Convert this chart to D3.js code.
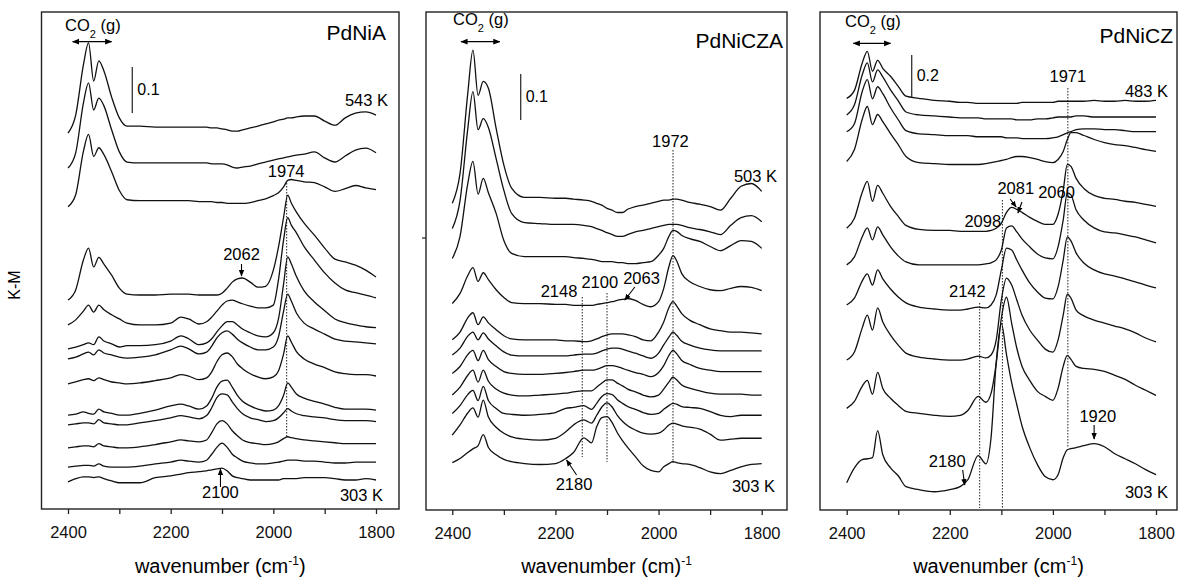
<!DOCTYPE html>
<html>
<head>
<meta charset="utf-8">
<script src="https://cdn.jsdelivr.net/npm/d3@7"></script>
<style>
  body { margin: 0; background: #fff; }
  svg { font-family: "Liberation Sans", Arial, sans-serif; }
</style>
</head>
<body>
<div id="chart"></div>
<script>
// wavenumber grid (cm-1), shared by all spectra
const wavenumbers = [2400, 2385, 2370, 2360, 2350, 2340, 2330, 2315, 2300, 2285,
  2260, 2230, 2200, 2180, 2165, 2145, 2130, 2120, 2110, 2100,
  2090, 2080, 2070, 2060, 2045, 2030, 2015, 2000, 1990, 1980,
  1972, 1965, 1955, 1940, 1920, 1900, 1880, 1860, 1840, 1820, 1800];

// PdNiA : K-M offsets of the stacked spectra (543 K on top, 303 K at bottom)
const pdniaOffsets = [0.817, 0.741, 0.657, 0.454, 0.400, 0.348, 0.326, 0.272, 0.204, 0.183, 0.133, 0.091, 0.059];
const pdniaSpectra = [
  [0, .039, .148, .196, .113, .157, .135, .078, .033, .015, .015, .013, .013, .013, .013, .013, .013, .011, .011, .009, .007, .004, .004, .007, .011, .015, .020, .024, .028, .030, .033, .033, .035, .037, .037, .026, .017, .033, .043, .046, .039],
  [0, .033, .141, .185, .126, .152, .135, .083, .035, .013, .011, .011, .011, .011, .011, .011, .011, .009, .009, .009, .007, .002, 0, .002, .004, .009, .013, .017, .020, .022, .024, .026, .028, .030, .035, .022, .013, .026, .039, .043, .033],
  [0, .026, .120, .157, .109, .128, .113, .076, .035, .015, .013, .013, .013, .013, .013, .011, .011, .011, .009, .009, .007, .007, .007, .007, .009, .013, .017, .024, .030, .043, .057, .059, .057, .054, .052, .043, .033, .039, .046, .041, .037],
  [0, .022, .087, .113, .072, .093, .078, .054, .026, .013, .011, .011, .013, .013, .013, .011, .011, .011, .011, .015, .026, .039, .046, .048, .039, .028, .030, .065, .115, .180, .228, .211, .191, .167, .141, .113, .089, .083, .076, .065, .050],
  [0, .011, .030, .043, .028, .043, .033, .022, .013, .004, 0, 0, .004, .017, .013, .002, .007, .017, .030, .043, .052, .054, .050, .046, .041, .037, .037, .043, .098, .185, .233, .217, .200, .170, .141, .113, .091, .076, .070, .065, .059],
  [0, .004, .009, .013, .009, .026, .017, .011, .004, .007, .007, .009, .017, .028, .022, .009, .013, .022, .037, .050, .059, .059, .052, .043, .035, .028, .026, .035, .065, .141, .200, .185, .157, .126, .102, .083, .065, .057, .052, .048, .046],
  [0, .004, .011, .015, .009, .020, .013, .009, .004, .002, .004, .009, .020, .028, .022, .011, .015, .028, .046, .057, .061, .054, .043, .035, .026, .020, .020, .026, .048, .104, .141, .126, .100, .078, .065, .054, .043, .039, .037, .035, .033],
  [0, .004, .009, .011, .007, .013, .009, .004, .002, 0, .002, .007, .013, .020, .017, .009, .013, .026, .048, .063, .067, .059, .043, .033, .022, .015, .011, .015, .028, .065, .104, .091, .070, .054, .043, .035, .026, .022, .020, .020, .017],
  [0, .002, .007, .004, .002, .013, .007, .004, 0, 0, .004, .011, .020, .024, .020, .013, .020, .037, .061, .074, .076, .061, .043, .030, .020, .013, .009, .011, .020, .043, .070, .061, .046, .037, .030, .024, .017, .013, .013, .013, .011],
  [0, .002, .004, .004, .002, .011, .004, .002, 0, 0, .004, .009, .015, .020, .017, .013, .020, .037, .059, .067, .065, .050, .035, .024, .015, .011, .007, .009, .015, .026, .035, .030, .024, .020, .017, .015, .011, .009, .009, .009, .007],
  [0, .002, .004, .004, .002, .009, .004, .002, 0, 0, .002, .007, .013, .017, .015, .013, .017, .033, .052, .059, .052, .037, .026, .017, .011, .009, .007, .009, .013, .020, .024, .022, .020, .017, .015, .013, .011, .009, .009, .009, .009],
  [0, .002, .004, .004, .002, .007, .002, 0, 0, 0, .002, .007, .011, .015, .013, .011, .015, .028, .043, .052, .043, .028, .020, .013, .009, .007, .007, .009, .011, .013, .015, .015, .015, .013, .013, .011, .009, .009, .011, .011, .011],
  [0, .007, .011, .011, .009, .011, .007, .002, -.002, -.002, -.002, .009, .013, .017, .020, .022, .024, .026, .028, .030, .024, .013, .009, .007, .004, .004, .004, .004, .004, .007, .007, .007, .007, .009, .009, .009, .007, .004, .004, .007, .004]
];

// PdNiCZA (503 K on top, 303 K at bottom)
const pdniczaOffsets = [0.667, 0.612, 0.547, 0.449, 0.370, 0.337, 0.297, 0.250, 0.210, 0.163, 0.103];
const pdniczaSpectra = [
  [0, .065, .239, .333, .235, .265, .250, .163, .083, .033, .013, .013, .011, .011, .009, .007, .004, 0, -.004, -.011, -.015, -.020, -.020, -.013, -.007, -.004, 0, .004, .007, .007, .009, .009, .007, .002, -.002, -.007, -.015, .011, .037, .043, .026],
  [0, .061, .217, .298, .215, .239, .220, .152, .083, .033, .013, .011, .009, .009, .009, .007, .004, 0, -.004, -.009, -.013, -.017, -.017, -.013, -.007, -.004, 0, .004, .007, .009, .009, .009, .007, .002, -.002, -.007, -.013, .007, .024, .028, .015],
  [0, .048, .163, .211, .140, .174, .143, .098, .039, .011, .004, .004, .004, .004, .002, 0, -.002, -.004, -.007, -.007, -.007, -.009, -.009, -.011, -.011, -.009, -.007, .007, .022, .048, .061, .059, .050, .043, .037, .026, .017, .028, .039, .037, .022],
  [0, .022, .061, .078, .048, .067, .052, .030, .013, .002, 0, 0, -.002, -.002, -.004, -.004, -.004, -.002, 0, .002, .004, .007, .009, .011, .007, -.002, -.007, .004, .033, .080, .104, .093, .065, .048, .037, .030, .028, .033, .037, .035, .028],
  [0, .017, .048, .059, .033, .050, .037, .022, .009, .002, 0, 0, 0, -.002, -.002, -.004, -.002, .002, .007, .011, .013, .013, .013, .011, .007, 0, -.002, .017, .039, .070, .083, .074, .057, .043, .033, .024, .020, .017, .017, .015, .013],
  [0, .015, .041, .050, .033, .048, .035, .020, .007, 0, -.002, -.002, -.002, -.002, 0, .002, .002, .004, .009, .013, .015, .015, .013, .009, .004, -.002, -.007, .004, .022, .039, .050, .043, .030, .022, .015, .011, .009, .009, .009, .009, .009],
  [0, .015, .041, .050, .028, .050, .030, .015, .004, 0, -.002, -.002, 0, .002, .004, .007, .007, .009, .013, .017, .017, .015, .011, .007, .002, -.002, -.007, .002, .017, .039, .050, .043, .028, .020, .011, .007, .004, .004, .004, .004, .004],
  [0, .017, .043, .054, .028, .054, .030, .013, .004, 0, -.002, 0, .002, .004, .007, .009, .009, .017, .026, .033, .033, .026, .020, .013, .007, 0, -.004, 0, .013, .028, .039, .033, .022, .015, .009, .004, .002, .002, .002, 0, 0],
  [0, .017, .041, .050, .028, .059, .028, .011, 0, -.002, -.004, -.002, .002, .011, .013, .017, .009, .022, .037, .043, .041, .030, .022, .015, .009, .002, -.002, 0, .009, .017, .022, .020, .015, .013, .011, .004, -.004, -.007, -.004, -.004, -.004],
  [0, .022, .048, .059, .039, .076, .039, .017, .004, -.004, -.009, -.011, -.007, .007, .022, .033, .026, .043, .061, .070, .061, .043, .030, .020, .011, .004, .002, .004, .011, .022, .026, .024, .020, .017, .013, .002, -.011, -.009, -.007, -.007, -.007],
  [0, .009, .022, .030, .037, .061, .033, .017, .007, .002, -.002, -.004, -.002, .009, .022, .054, .043, .078, .098, .100, .087, .065, .048, .033, .013, -.007, -.017, -.020, -.009, -.002, .002, 0, -.002, -.004, -.011, -.020, -.024, -.017, -.009, -.004, -.002]
];

// PdNiCZ (483 K on top, 303 K at bottom)
const pdniczOffsets = [1.960, 1.881, 1.801, 1.659, 1.341, 1.167, 0.976, 0.714, 0.484, 0.130];
const pdniczSpectra = [
  [0, .038, .167, .224, .129, .181, .143, .105, .057, .010, 0, -.010, -.014, -.019, -.019, -.024, -.024, -.024, -.024, -.024, -.024, -.024, -.024, -.019, -.019, -.019, -.019, -.019, -.014, -.014, -.014, -.014, -.014, -.014, -.010, -.014, -.014, -.010, -.014, -.014, -.010],
  [0, .048, .190, .248, .157, .214, .181, .119, .067, .014, 0, -.005, -.010, -.014, -.014, -.014, -.019, -.019, -.019, -.019, -.019, -.019, -.024, -.024, -.024, -.019, -.019, -.014, -.010, -.010, -.010, -.010, -.005, -.005, -.010, -.010, -.010, -.010, -.010, -.010, -.010],
  [0, .038, .190, .248, .157, .214, .181, .114, .057, .005, -.010, -.014, -.019, -.019, -.019, -.024, -.024, -.024, -.024, -.024, -.029, -.029, -.029, -.033, -.033, -.033, -.033, -.029, -.024, -.014, -.005, 0, .010, .014, .014, .010, .010, .005, 0, 0, 0],
  [0, .057, .200, .262, .176, .224, .190, .133, .081, .024, -.005, -.010, -.014, -.014, -.014, -.014, -.010, -.005, 0, .005, .010, .019, .024, .024, .019, .010, 0, -.005, .010, .048, .105, .138, .138, .124, .105, .090, .081, .076, .067, .057, .048],
  [0, .048, .171, .224, .129, .205, .167, .105, .057, .014, -.005, -.010, -.010, -.014, -.014, -.014, -.014, -.010, 0, .024, .076, .100, .090, .076, .052, .033, .019, .019, .067, .181, .305, .295, .238, .190, .157, .143, .138, .129, .124, .114, .105],
  [0, .038, .133, .176, .119, .181, .143, .086, .043, .014, 0, 0, 0, 0, 0, 0, .005, .010, .024, .071, .176, .186, .157, .124, .086, .052, .033, .029, .086, .214, .343, .333, .262, .214, .176, .157, .152, .143, .133, .119, .105],
  [0, .033, .114, .148, .095, .167, .124, .076, .038, .010, -.010, -.019, -.024, -.024, -.019, -.010, -.014, 0, .048, .167, .271, .262, .214, .167, .105, .062, .033, .029, .086, .214, .324, .305, .248, .200, .167, .148, .138, .124, .110, .095, .081],
  [0, .038, .152, .214, .143, .248, .181, .119, .071, .033, .014, .005, 0, 0, .005, .019, .010, .024, .095, .286, .390, .357, .286, .214, .143, .095, .052, .038, .095, .214, .314, .295, .238, .210, .190, .176, .162, .148, .129, .105, .086],
  [0, .033, .105, .133, .067, .171, .095, .048, .014, -.014, -.024, -.033, -.038, -.033, -.010, .057, .029, .071, .214, .429, .529, .405, .286, .200, .133, .081, .057, .038, .095, .200, .252, .233, .200, .190, .186, .176, .157, .138, .110, .086, .062],
  [0, .071, .110, .114, .119, .248, .133, .071, .033, -.019, -.033, -.043, -.033, -.019, .014, .129, .090, .214, .571, .757, .610, .476, .371, .271, .167, .086, .029, .014, .038, .119, .157, .162, .167, .176, .186, .171, .138, .114, .090, .062, .038]
];

const majorTicks = [2400, 2200, 2000, 1800];
const minorTicks = [2300, 2100, 1900];

const panels = [
  {
    name: "PdNiA", offsets: pdniaOffsets, spectra: pdniaSpectra,
    left: 41.5, right: 399, top: 12, bottom: 509, x2400: 68, x1800: 376, yMax: 1.08,
    title: {x: 386, y: 40}, co2: {x: 65, y: 31, w0: 2391, w1: 2315, ay: 41.7},
    bar: {x: 132.3, y: 67, value: 0.1},
    tTop: {text: "543 K", x: 388, y: 106}, tBottom: {text: "303 K", x: 383, y: 501},
    peaks: [
      {text: "1974", w: 1975, y: 177}, {text: "2062", w: 2062, y: 260}, {text: "2100", w: 2103, y: 498}
    ],
    dotted: [{w: 1974, y0: 183, y1: 437}],
    arrows: [{w: 2062, y0: 264, y1: 276, dx: 0}, {w: 2103, y0: 487, y1: 469, dx: 0}],
    axisTitle: "paren"
  },
  {
    name: "PdNiCZA", offsets: pdniczaOffsets, spectra: pdniczaSpectra,
    left: 426, right: 787, top: 12, bottom: 510, x2400: 452.3, x1800: 761.7, yMax: 1.083,
    title: {x: 783, y: 48}, co2: {x: 453, y: 25, w0: 2383, w1: 2308, ay: 41.7},
    bar: {x: 520.7, y: 74, value: 0.1},
    tTop: {text: "503 K", x: 777, y: 182}, tBottom: {text: "303 K", x: 775, y: 492},
    peaks: [
      {text: "1972", w: 1977, y: 147}, {text: "2148", w: 2193, y: 297}, {text: "2100", w: 2114, y: 288},
      {text: "2063", w: 2033, y: 284}, {text: "2180", w: 2164, y: 490}
    ],
    dotted: [{w: 1972, y0: 150, y1: 463}, {w: 2148, y0: 297, y1: 457}, {w: 2100, y0: 293, y1: 462}],
    arrows: [{w: 2046, y0: 287, y1: 300, dx: -10}, {w: 2159, y0: 475, y1: 460, dx: -10}],
    leftMark: 238,
    axisTitle: "plain"
  },
  {
    name: "PdNiCZ", offsets: pdniczOffsets, spectra: pdniczSpectra,
    left: 820, right: 1177, top: 12, bottom: 510, x2400: 846.7, x1800: 1156, yMax: 2.371,
    title: {x: 1173, y: 43}, co2: {x: 845, y: 27, w0: 2387, w1: 2315, ay: 43.3},
    bar: {x: 911.7, y: 55, value: 0.2},
    tTop: {text: "483 K", x: 1168, y: 97}, tBottom: {text: "303 K", x: 1168, y: 498},
    peaks: [
      {text: "1971", w: 1971, y: 82}, {text: "2081", w: 2072, y: 194}, {text: "2060", w: 1993, y: 198},
      {text: "2098", w: 2136, y: 227}, {text: "2142", w: 2166, y: 297}, {text: "2180", w: 2205, y: 467},
      {text: "1920", w: 1913, y: 422}
    ],
    dotted: [{w: 1971, y0: 88, y1: 447}, {w: 2098, y0: 200, y1: 508}, {w: 2142, y0: 303, y1: 508}],
    arrows: [
      {w: 2083, y0: 199, y1: 207, dx: 6}, {w: 2060, y0: 202, y1: 213, dx: -4},
      {w: 2175, y0: 470, y1: 485, dx: 2}, {w: 1920, y0: 425, y1: 439, dx: 0}
    ],
    axisTitle: "paren"
  }
];

const svg = d3.select("#chart").append("svg")
  .attr("width", 1179).attr("height", 579);

svg.append("defs").append("marker")
  .attr("id", "head").attr("viewBox", "0 0 10 10")
  .attr("refX", 9).attr("refY", 5)
  .attr("markerWidth", 6).attr("markerHeight", 6)
  .attr("orient", "auto-start-reverse")
  .append("path").attr("d", "M0,1 L10,5 L0,9 Z").attr("fill", "#000");

svg.append("text")
  .attr("transform", "translate(20,285) rotate(-90)")
  .attr("text-anchor", "middle").attr("font-size", 16)
  .text("K-M");

panels.forEach(p => drawPanel(p));

function drawPanel(p) {
  const x = d3.scaleLinear().domain([2400, 1800]).range([p.x2400, p.x1800]);
  const y = d3.scaleLinear().domain([0, p.yMax]).range([p.bottom, p.top]);
  const g = svg.append("g");

  // frame
  g.append("rect")
    .attr("x", p.left).attr("y", p.top)
    .attr("width", p.right - p.left).attr("height", p.bottom - p.top)
    .attr("fill", "none").attr("stroke", "#222").attr("stroke-width", 1.4);

  // bottom ticks
  const axis = d3.axisBottom(x)
    .tickValues(majorTicks.concat(minorTicks))
    .tickSize(5).tickPadding(12)
    .tickFormat(d => majorTicks.includes(d) ? d : "");
  const ax = g.append("g").attr("transform", `translate(0,${p.bottom})`).call(axis);
  ax.select(".domain").remove();
  ax.selectAll(".tick line").attr("stroke", "#222").attr("stroke-width", 1.3);
  ax.selectAll("text").attr("font-size", 16.5).attr("fill", "#111")
    .attr("font-family", "Liberation Sans, Arial, sans-serif");

  if (p.leftMark) {
    g.append("line").attr("x1", p.left - 4).attr("x2", p.left)
      .attr("y1", p.leftMark).attr("y2", p.leftMark)
      .attr("stroke", "#222").attr("stroke-width", 1.2);
  }

  // axis title
  const t = g.append("text")
    .attr("x", (p.left + p.right) / 2).attr("y", 573)
    .attr("text-anchor", "middle").attr("font-size", 20);
  if (p.axisTitle === "paren") {
    t.append("tspan").text("wavenumber (cm");
    t.append("tspan").attr("font-size", 12).attr("dy", -8).text("-1");
    t.append("tspan").attr("dy", 8).text(")");
  } else {
    t.append("tspan").text("wavenumber (cm)");
    t.append("tspan").attr("font-size", 12).attr("dy", -8).text("-1");
  }

  // dotted guides
  g.selectAll(".guide").data(p.dotted).join("line")
    .attr("x1", d => x(d.w)).attr("x2", d => x(d.w))
    .attr("y1", d => d.y0).attr("y2", d => d.y1)
    .attr("stroke", "#222").attr("stroke-width", 1)
    .attr("stroke-dasharray", "1.5,1.5");

  // spectra
  const line = d3.line()
    .x((d, i) => x(wavenumbers[i]))
    .y(d => y(d))
    .curve(d3.curveMonotoneX);
  g.selectAll(".spec").data(p.spectra).join("path")
    .attr("d", (s, k) => line(s.map(v => v + p.offsets[k])))
    .attr("fill", "none").attr("stroke", "#111")
    .attr("stroke-width", 1.3).attr("stroke-linejoin", "round");

  // sample name
  g.append("text").attr("x", p.title.x).attr("y", p.title.y)
    .attr("text-anchor", "end").attr("font-size", 21).text(p.name);

  // CO2 (g) label with double arrow
  const c = g.append("text").attr("x", p.co2.x).attr("y", p.co2.y).attr("font-size", 16.5);
  c.append("tspan").text("CO");
  c.append("tspan").attr("font-size", 11).attr("dy", 7).text("2");
  c.append("tspan").attr("dy", -7).text(" (g)");
  g.append("line")
    .attr("x1", x(p.co2.w0)).attr("x2", x(p.co2.w1))
    .attr("y1", p.co2.ay).attr("y2", p.co2.ay)
    .attr("stroke", "#000").attr("stroke-width", 1.2)
    .attr("marker-start", "url(#head)").attr("marker-end", "url(#head)");

  // intensity scale bar
  const barLen = y(0) - y(p.bar.value);
  g.append("line").attr("x1", p.bar.x).attr("x2", p.bar.x)
    .attr("y1", p.bar.y).attr("y2", p.bar.y + barLen)
    .attr("stroke", "#333").attr("stroke-width", 1.3);
  g.append("text").attr("x", p.bar.x + 5).attr("y", p.bar.y + barLen / 2 + 5)
    .attr("font-size", 16).text(p.bar.value.toFixed(1));

  // temperatures
  [p.tTop, p.tBottom].forEach(d => {
    g.append("text").attr("x", d.x).attr("y", d.y)
      .attr("text-anchor", "end").attr("font-size", 16.5).text(d.text);
  });

  // band labels
  g.selectAll(".peak").data(p.peaks).join("text")
    .attr("x", d => x(d.w)).attr("y", d => d.y)
    .attr("text-anchor", "middle").attr("font-size", 16.5)
    .text(d => d.text);

  g.selectAll(".arr").data(p.arrows).join("line")
    .attr("x1", d => x(d.w)).attr("x2", d => x(d.w) + d.dx)
    .attr("y1", d => d.y0).attr("y2", d => d.y1)
    .attr("stroke", "#000").attr("stroke-width", 1.1)
    .attr("marker-end", "url(#head)");
}
</script>
</body>
</html>
